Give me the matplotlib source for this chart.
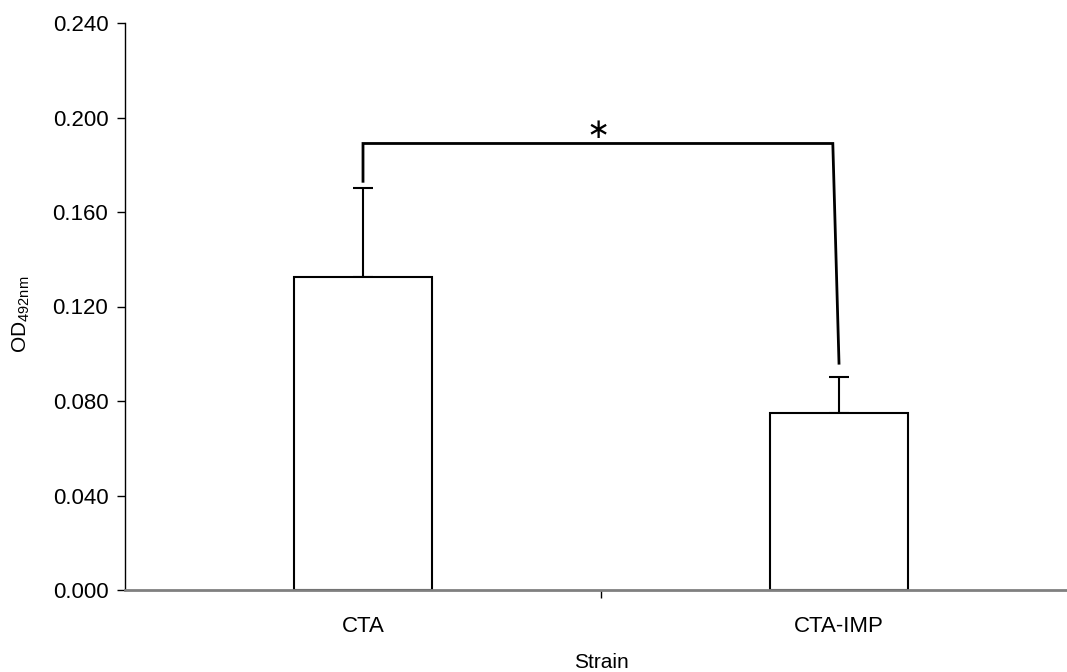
import matplotlib.pyplot as plt
import numpy as np

plt.rcParams['font.family'] = ['Liberation Sans', 'DejaVu Sans']

strains = ['CTA', 'CTA-IMP']
od_mean = [0.1325, 0.0749]
od_err = [0.0375, 0.0153]

# significance bracket: bar height and where each leg stops
bracket_y = 0.189
leg_bottom = [0.173, 0.096]
y_ticks = [0.000, 0.040, 0.080, 0.120, 0.160, 0.200, 0.240]

fig = plt.figure(figsize=(10.67, 6.72), dpi=100)
ax = fig.add_axes([125 / 1067, 82 / 672, 952 / 1067, 567 / 672])

pos = np.arange(len(strains))
ax.bar(pos, od_mean, width=0.29, color='white', edgecolor='black', linewidth=1.5, zorder=2)
ax.errorbar(pos, od_mean, yerr=[np.zeros(len(od_err)), od_err], fmt='none',
            ecolor='black', elinewidth=1.5, capsize=7, capthick=1.5, zorder=1)

# bracket between the two strains, right leg leaning slightly
ax.plot([pos[0], pos[0], pos[1] - 0.013, pos[1]],
        [leg_bottom[0], bracket_y, bracket_y, leg_bottom[1]],
        color='black', linewidth=2, solid_joinstyle='miter')
ax.text(0.5 - 0.006, bracket_y + 0.0058, '\u2217', ha='center', va='center',
        fontsize=20, family='DejaVu Sans')

ax.set_xlim(-0.5, 1.5)
ax.set_ylim(0, 0.24)
ax.set_yticks(y_ticks)
ax.set_yticklabels(['%.3f' % v for v in y_ticks], fontsize=16)
ax.set_xticks(pos)
ax.set_xticklabels(strains, fontsize=16)
ax.set_xticks([0.5], minor=True)
ax.tick_params(axis='x', which='major', length=0, pad=19)
ax.tick_params(axis='x', which='minor', length=6, width=1, color='black')
ax.tick_params(axis='y', length=6, width=1, pad=6)

ax.spines['top'].set_visible(False)
ax.spines['right'].set_visible(False)
ax.spines['left'].set_linewidth(1)
ax.spines['bottom'].set_color('#808080')
ax.spines['bottom'].set_linewidth(2)
ax.spines['bottom'].set_zorder(3)

fig.text(601 / 1067, 1 - 662 / 672, 'Strain', fontsize=15, ha='center', va='center')
fig.text(21 / 1067, 1 - 314 / 672, r'OD$_{\mathregular{492nm}}$', fontsize=15,
         rotation=90, ha='center', va='center')

fig.savefig('out.png', dpi=100)
